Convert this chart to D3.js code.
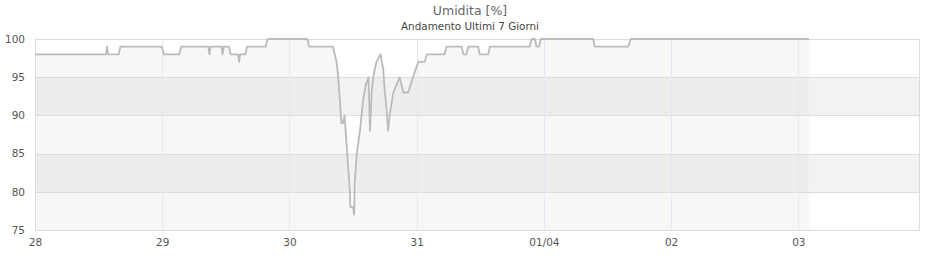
<!DOCTYPE html>
<html>
<head>
<meta charset="utf-8">
<script src="https://cdn.jsdelivr.net/npm/d3@7"></script>
<style>
  html, body { margin: 0; padding: 0; background: #fff; }
  svg { display: block; font-family: "DejaVu Sans", Verdana, sans-serif; }
</style>
</head>
<body>
<svg id="chart" width="940" height="260"></svg>
<script>
// ---- data ----
const titleText = "Umidita [%]";
const subtitleText = "Andamento Ultimi 7 Giorni";
// hours elapsed since 28 00:00
const hours = [0, 13.4, 13.6, 13.8, 15.8, 16.1, 23.9, 24.3, 27.2, 27.6, 32.7, 32.9, 33.1, 35.2, 35.4, 35.6, 36.6, 36.9, 38.3, 38.5, 38.7, 39.7, 40.0, 43.5, 43.9, 51.4, 51.7, 56.2, 56.9, 57.2, 57.5, 57.8, 58.1, 58.4, 58.8, 59.1, 59.4, 59.5, 60.0, 60.2, 60.3, 60.7, 61.3, 61.9, 62.4, 62.9, 63.2, 63.5, 63.8, 64.4, 65.2, 65.7, 66.0, 66.3, 66.6, 66.9, 67.6, 68.2, 68.8, 69.5, 70.4, 71.3, 72.3, 73.5, 73.9, 77.3, 77.6, 80.5, 80.8, 81.4, 81.7, 83.6, 83.9, 85.5, 85.8, 93.3, 93.7, 94.3, 94.6, 95.1, 95.4, 105.3, 105.6, 111.9, 112.4, 146.0];
const humidity = [98, 98, 99, 98, 98, 99, 99, 98, 98, 99, 99, 98, 99, 99, 98, 99, 99, 98, 98, 97, 98, 98, 99, 99, 100, 100, 99, 99, 97, 95, 92, 89, 89, 90, 86, 83, 80, 78, 78, 77, 81, 85, 88, 92, 94, 95, 88, 93, 95, 97, 98, 96, 93, 91, 88, 90, 93, 94, 95, 93, 93, 95, 97, 97, 98, 98, 99, 99, 98, 98, 99, 99, 98, 98, 99, 99, 100, 100, 99, 99, 100, 100, 99, 99, 100, 100];
const dayTicks = [0, 24, 48, 72, 96, 120, 144];
const dayLabels = ["28", "29", "30", "31", "01/04", "02", "03"];
const yTicks = [75, 80, 85, 90, 95, 100];
const yBands = [[75, 80], [80, 85], [85, 90], [90, 95], [95, 100]];
const xDomain = [0, 166.95];
const yDomain = [75, 100];

// ---- layout ----
const pLeft = 35, pRight = 920, pTop = 39, pBottom = 230;
const svg = d3.select("#chart");
const x = d3.scaleLinear().domain(xDomain).range([pLeft, pRight]);
const y = d3.scaleLinear().domain(yDomain).range([pBottom, pTop]);
const data = hours.map((h, i) => ({h, v: humidity[i]}));

// plot background bands
svg.append("g").selectAll("rect").data(yBands).join("rect")
  .attr("x", pLeft).attr("width", pRight - pLeft)
  .attr("y", d => y(d[1])).attr("height", d => y(d[0]) - y(d[1]))
  .attr("fill", (d, i) => i % 2 === 1 ? "#f2f2f2" : "#ffffff");

// area under line
svg.append("path").datum(data)
  .attr("d", d3.area().x(d => x(d.h)).y0(y(yDomain[0])).y1(d => y(d.v)))
  .attr("fill", "#dcdcdc").attr("fill-opacity", 0.23);

// horizontal grid
svg.append("g").selectAll("line").data(yTicks.slice(1, -1)).join("line")
  .attr("x1", pLeft).attr("x2", pRight)
  .attr("y1", d => Math.round(y(d)) + 0.5).attr("y2", d => Math.round(y(d)) + 0.5)
  .attr("stroke", "#dddddd").attr("stroke-width", 1);

// vertical grid
svg.append("g").selectAll("line").data(dayTicks.slice(1)).join("line")
  .attr("y1", pTop).attr("y2", pBottom)
  .attr("x1", d => Math.round(x(d)) + 0.5).attr("x2", d => Math.round(x(d)) + 0.5)
  .attr("stroke", "#e6e6f4").attr("stroke-width", 1);

// border
svg.append("rect")
  .attr("x", pLeft + 0.5).attr("y", pTop + 0.5)
  .attr("width", pRight - pLeft - 1).attr("height", pBottom - pTop)
  .attr("fill", "none").attr("stroke", "#dcdcdc");

// line
svg.append("path").datum(data)
  .attr("d", d3.line().x(d => x(d.h)).y(d => y(d.v)))
  .attr("fill", "none").attr("stroke", "#bbbbbb").attr("stroke-width", 1.8)
  .attr("stroke-linejoin", "round");

// y axis labels
const yAxis = d3.axisLeft(y).tickValues(yTicks).tickSize(0).tickPadding(10);
const gy = svg.append("g").attr("transform", `translate(${pLeft},0)`).call(yAxis);
gy.select(".domain").remove();
gy.selectAll("text").attr("fill", "#555").attr("font-size", 10.5)
  .attr("font-family", "DejaVu Sans, sans-serif");

// x axis labels
const xAxis = d3.axisBottom(x).tickValues(dayTicks).tickSize(0).tickPadding(9)
  .tickFormat((d, i) => dayLabels[i]);
const gx = svg.append("g").attr("transform", `translate(0,${pBottom})`).call(xAxis);
gx.select(".domain").remove();
gx.selectAll("text").attr("fill", "#555").attr("font-size", 10.5)
  .attr("font-family", "DejaVu Sans, sans-serif");

// titles
svg.append("text").attr("x", 470).attr("y", 15).attr("text-anchor", "middle")
  .attr("font-size", 12.5).attr("fill", "#666").text(titleText);
svg.append("text").attr("x", 470).attr("y", 30).attr("text-anchor", "middle")
  .attr("font-size", 10.4).attr("fill", "#444").text(subtitleText);
</script>
</body>
</html>
